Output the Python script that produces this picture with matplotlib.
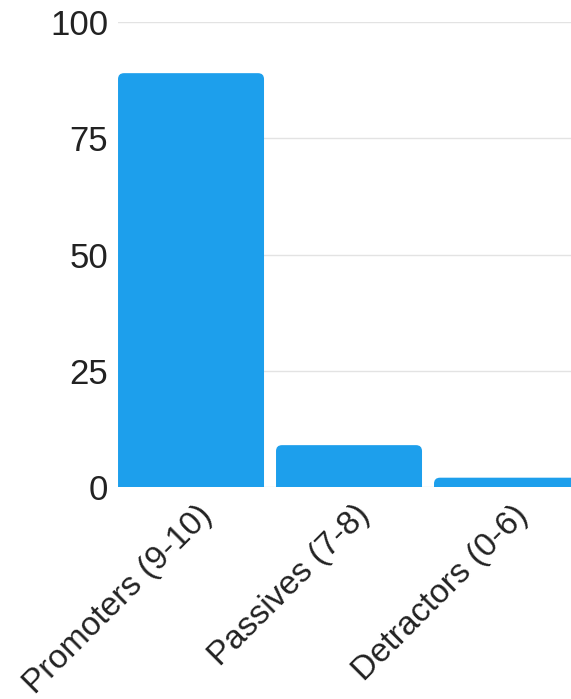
"""
nps_bars.py
-----------
Bar chart of NPS respondent groups with rounded bar tops.
"""

import numpy as np
import matplotlib
matplotlib.use('Agg')
import matplotlib.pyplot as plt
import matplotlib.transforms as mtransforms
from matplotlib.path import Path
from matplotlib.patches import PathPatch

categories = ["Promoters (9-10)", "Passives (7-8)", "Detractors (0-6)"]
shares = [89, 9, 2]
y_ticks = [0, 25, 50, 75, 100]

BAR_COLOR = "#1d9fec"
GRID_COLOR = "#e3e3e3"

plt.rcParams['font.family'] = ['Liberation Sans', 'DejaVu Sans']


def rounded_top(x0, width, height, rx, ry):
    """Path of a bar whose two top corners are rounded."""
    ry = min(ry, height)
    x1 = x0 + width
    verts = [
        (x0, 0), (x0, height - ry),
        (x0, height), (x0 + rx, height),
        (x1 - rx, height),
        (x1, height), (x1, height - ry),
        (x1, 0), (x0, 0),
    ]
    codes = [
        Path.MOVETO, Path.LINETO,
        Path.CURVE3, Path.CURVE3,
        Path.LINETO,
        Path.CURVE3, Path.CURVE3,
        Path.LINETO, Path.CLOSEPOLY,
    ]
    return Path(verts, codes)


fig = plt.figure(figsize=(5.71, 6.99), dpi=100)
ax = fig.add_axes([0.2067, 0.3033, 0.7933, 0.6652])

bar_width = 0.924
x = np.arange(len(categories))
bars = ax.bar(x, shares, width=bar_width, color=BAR_COLOR, zorder=3)

ax.set_xlim(-bar_width / 2, 2.405)
ax.set_ylim(0, 100)

# swap the plain rectangles for rounded-top paths (radius ~6 px)
fig.canvas.draw()
px_x = ax.transData.transform((1, 0))[0] - ax.transData.transform((0, 0))[0]
px_y = ax.transData.transform((0, 1))[1] - ax.transData.transform((0, 0))[1]
rx, ry = 6 / px_x, 6 / px_y
for rect in bars:
    patch = PathPatch(
        rounded_top(rect.get_x(), rect.get_width(), rect.get_height(), rx, ry),
        facecolor=BAR_COLOR, edgecolor="none", zorder=3,
    )
    ax.add_patch(patch)
    rect.set_visible(False)

ax.set_yticks(y_ticks)
ax.set_yticklabels([str(v) for v in y_ticks], fontsize=25, color="#222222")
ax.set_xticks(x)
ax.set_xticklabels(categories, fontsize=24, color="#222222",
                   rotation=45, ha="right", va="top", rotation_mode="anchor")
ax.tick_params(axis="both", length=0)
ax.tick_params(axis="y", pad=7)
ax.tick_params(axis="x", pad=9)

# nudge the slanted labels a little to the right of their ticks
shift = mtransforms.ScaledTranslation(4 / 72, 0, fig.dpi_scale_trans)
for lbl in ax.get_xticklabels():
    lbl.set_transform(lbl.get_transform() + shift)

ax.grid(axis="y", color=GRID_COLOR, linewidth=1, zorder=0)
for side in ax.spines.values():
    side.set_visible(False)

plt.savefig("out.png", dpi=100)
